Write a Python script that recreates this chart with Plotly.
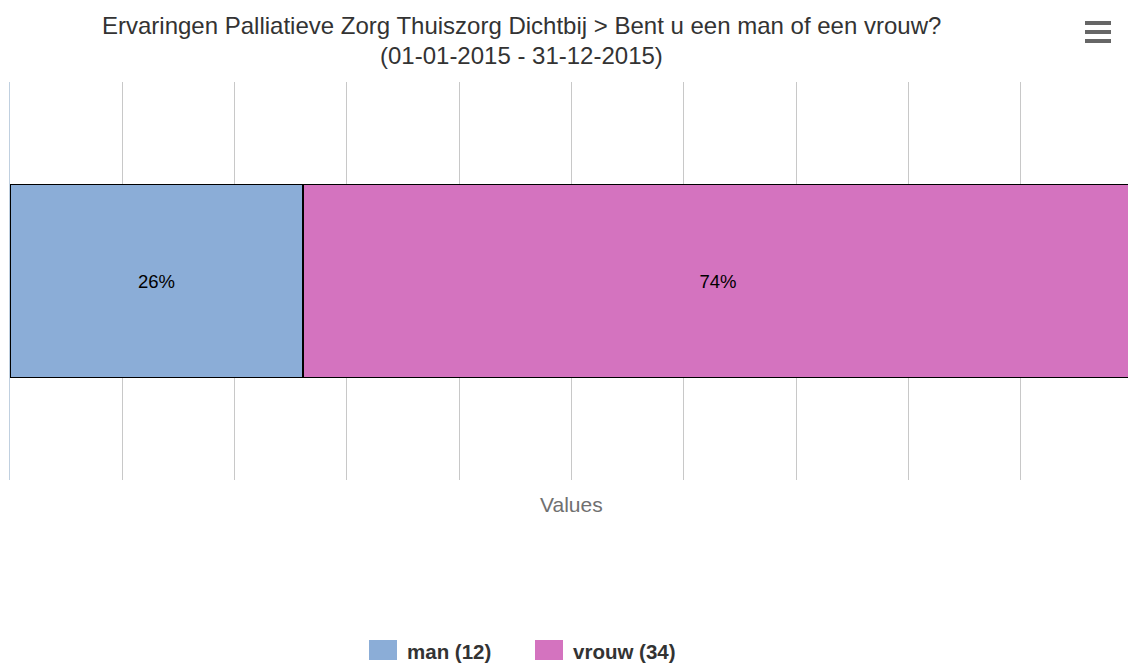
import plotly.graph_objects as go

# Survey answers: "Bent u een man of een vrouw?"
categories = [""]
answer_labels = ["man", "vrouw"]
answer_counts = [12, 34]
answer_colors = ["#8BADD7", "#D473BF"]

total = sum(answer_counts)
shares = [c / total * 100 for c in answer_counts]

W, H = 1128, 665
plot_left, plot_top, plot_bottom = 10, 82, 480
plot_w = W - plot_left
plot_h = plot_bottom - plot_top
px_per_pct = 11.23  # 100 % spans 1123 px; the right end runs past the page
x_max = plot_w / px_per_pct

FONT = "Liberation Sans, Arial, sans-serif"


def px_x(px):
    """Page x pixel -> paper coordinate."""
    return (px - plot_left) / plot_w


def px_y(py):
    """Page y pixel (from top) -> paper coordinate."""
    return (plot_bottom - py) / plot_h


fig = go.Figure()
for label, share, color in zip(answer_labels, shares, answer_colors):
    fig.add_trace(go.Bar(
        y=categories,
        x=[share],
        orientation="h",
        name=label,
        marker=dict(color=color, line=dict(color="#000000", width=1.5)),
        text=[f"{share:.0f}%"],
        textposition="inside",
        insidetextanchor="middle",
        textfont=dict(family=FONT, size=18.5, color="#000000"),
        hoverinfo="skip",
        showlegend=False,
    ))

fig.update_layout(
    width=W,
    height=H,
    barmode="stack",
    bargap=0.515,
    plot_bgcolor="#FFFFFF",
    paper_bgcolor="#FFFFFF",
    margin=dict(l=plot_left, r=0, t=plot_top, b=H - plot_bottom, pad=0),
    font=dict(family=FONT, color="#333333"),
    xaxis=dict(
        range=[0, x_max],
        dtick=10,
        showgrid=True,
        gridcolor="#C8C8C8",
        gridwidth=1,
        zeroline=False,
        showticklabels=False,
        ticks="",
        showline=False,
        fixedrange=True,
    ),
    yaxis=dict(
        showgrid=False,
        zeroline=False,
        showticklabels=False,
        ticks="",
        showline=True,
        linecolor="#C0D0E0",
        linewidth=1,
        range=[-0.5, 0.5],
        fixedrange=True,
    ),
    uniformtext=dict(mode=False),
)

# Chart title, two centred lines
title_lines = [
    "Ervaringen Palliatieve Zorg Thuiszorg Dichtbij > Bent u een man of een vrouw?",
    "(01-01-2015 - 31-12-2015)",
]
for line, cy in zip(title_lines, [25, 55]):
    fig.add_annotation(
        text=line,
        x=px_x(521), y=px_y(cy),
        xref="paper", yref="paper",
        xanchor="center", yanchor="middle",
        showarrow=False,
        font=dict(size=24, color="#333333"),
    )

# Value-axis title, centred under the full 0-100 % span
fig.add_annotation(
    text="Values",
    x=px_x(plot_left + 100 * px_per_pct / 2),
    y=px_y(504),
    xref="paper", yref="paper",
    xanchor="center", yanchor="middle",
    showarrow=False,
    font=dict(size=21, color="#707070"),
)

# Legend drawn as swatches with bold labels
legend_x = [369, 535]
legend_y = 650
for lx, label, count, color in zip(legend_x, answer_labels, answer_counts, answer_colors):
    fig.add_shape(
        type="rect",
        xref="paper", yref="paper",
        x0=px_x(lx), x1=px_x(lx + 28),
        y0=px_y(legend_y + 10), y1=px_y(legend_y - 10),
        fillcolor=color, line=dict(width=0),
    )
    fig.add_annotation(
        text=f"<b>{label} ({count})</b>",
        x=px_x(lx + 36), y=px_y(legend_y + 1),
        xref="paper", yref="paper",
        xanchor="left", yanchor="middle",
        showarrow=False,
        font=dict(size=20.5, color="#333333"),
    )

# Export menu icon (three bars) in the top-right corner
for by in [23, 32, 41]:
    fig.add_shape(
        type="line",
        xref="paper", yref="paper",
        x0=px_x(1085), x1=px_x(1111),
        y0=px_y(by), y1=px_y(by),
        line=dict(color="#666666", width=4),
    )

fig.write_html("out.html", config={"displayModeBar": False})
